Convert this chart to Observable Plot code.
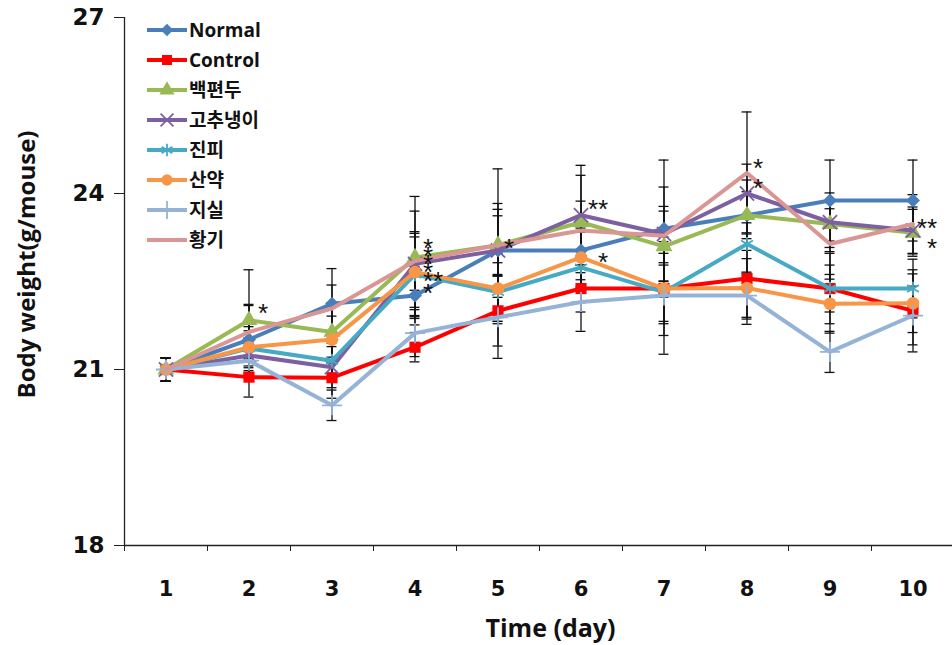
<!DOCTYPE html>
<html>
<head>
<meta charset="utf-8">
<script src="https://cdn.jsdelivr.net/npm/d3@7"></script>
<script src="https://cdn.jsdelivr.net/npm/@observablehq/plot@0.6"></script>
<style>
  html, body { margin: 0; padding: 0; background: #fff; }
  #chart { width: 952px; height: 645px; }
  svg { display: block; }
</style>
</head>
<body>
<div id="chart"></div>
<script>
// ---- data ----
const days = [1, 2, 3, 4, 5, 6, 7, 8, 9, 10];
const seriesNames = ["Normal", "Control", "백편두", "고추냉이", "진피", "산약", "지실", "황기"];
const seriesColors = ["#4A7EBB", "#FF0000", "#98B954", "#7D60A0", "#46AAC5", "#F79646", "#95B3D7", "#D99694"];
const seriesSymbols = ["diamond2", "square", "triangle", "times", "asterisk", "circle", "plus", null];

const normal   = [21.0, 21.51, 22.12, 22.26, 23.03, 23.03, 23.40, 23.63, 23.88, 23.88];
const control  = [21.0, 20.87, 20.86, 21.38, 22.00, 22.38, 22.38, 22.55, 22.38, 22.00];
const baekpyeondu = [21.0, 21.84, 21.64, 22.91, 23.12, 23.51, 23.10, 23.63, 23.48, 23.33];
const gochunaengi = [21.0, 21.24, 21.04, 22.80, 23.03, 23.63, 23.31, 24.00, 23.51, 23.37];
const jinpi    = [21.0, 21.36, 21.15, 22.62, 22.32, 22.74, 22.32, 23.14, 22.38, 22.38];
const sanyak   = [21.0, 21.38, 21.51, 22.66, 22.38, 22.91, 22.38, 22.39, 22.12, 22.13];
const jisil    = [21.0, 21.15, 20.39, 21.62, 21.89, 22.15, 22.26, 22.26, 21.30, 21.92];
const hwanggi  = [21.0, 21.64, 22.04, 22.85, 23.12, 23.37, 23.28, 24.35, 23.14, 23.48];
const seriesValues = [normal, control, baekpyeondu, gochunaengi, jinpi, sanyak, jisil, hwanggi];

const sdNormal   = [0.2, 0.6, 0.6, 0.5, 0.7, 0.5, 1.17, 0.6, 0.69, 0.69];
const sdControl  = [0.2, 0.34, 0.35, 0.25, 0.6, 0.4, 0.6, 0.78, 0.6, 0.7];
const sdBaek     = [0.2, 0.86, 0.5, 1.04, 1.3, 0.8, 0.6, 0.4, 0.4, 0.4];
const sdGochu    = [0.2, 0.3, 0.35, 0.9, 0.8, 0.85, 0.8, 0.5, 0.5, 0.4];
const sdJinpi    = [0.2, 0.3, 0.3, 0.7, 0.5, 0.6, 0.5, 0.5, 0.4, 0.5];
const sdSanyak   = [0.2, 0.35, 0.4, 0.6, 0.6, 0.5, 0.8, 0.5, 0.5, 0.5];
const sdJisil    = [0.2, 0.3, 0.26, 0.4, 0.7, 0.5, 1.0, 0.4, 0.35, 0.5];
const sdHwanggi  = [0.2, 0.45, 0.4, 0.5, 0.5, 0.5, 0.5, 1.04, 0.6, 0.5];
const seriesSD = [sdNormal, sdControl, sdBaek, sdGochu, sdJinpi, sdSanyak, sdJisil, sdHwanggi];

const yTicks = [18, 21, 24, 27];
// significance marks: day, value, label, label offset
const starDays   = [2, 4, 4, 4, 4, 4, 4, 5, 6, 6, 8, 8, 10, 10];
const starValues = [22.06, 23.165, 23.03, 22.89, 22.76, 22.60, 22.40, 23.165, 23.83, 22.94, 24.53, 24.19, 23.51, 23.165];
const starLabels = ["*", "*", "*", "*", "*", "**", "*", "*", "**", "*", "*", "*", "**", "*"];
const starOffsets = [9, 8, 8, 8, 8, 8, 8, 6, 7, 17, 6, 6, 4, 14];

// ---- tables ----
const points = [];
const errs = [];
seriesNames.forEach((name, i) => {
  days.forEach((d, j) => {
    points.push({series: name, day: d, value: seriesValues[i][j]});
    errs.push({series: name, day: d, lo: seriesValues[i][j] - seriesSD[i][j], hi: seriesValues[i][j] + seriesSD[i][j]});
  });
});
const stars = starDays.map((d, i) => ({day: d, value: starValues[i], label: starLabels[i], off: starOffsets[i]}));
const bounds = d3.range(0.5, 11, 1);
const capHalf = 0.06;

const fontLatin = "'Open Sans', 'Noto Sans CJK KR', sans-serif";
const fontNum = "'DejaVu Sans', sans-serif";

const marks = [];
// error bars
marks.push(Plot.ruleX(errs, {x: "day", y1: "lo", y2: "hi", stroke: "#111", strokeWidth: 1.3}));
marks.push(Plot.ruleY(errs, {y: "lo", x1: d => d.day - capHalf, x2: d => d.day + capHalf, stroke: "#111", strokeWidth: 1.3}));
marks.push(Plot.ruleY(errs, {y: "hi", x1: d => d.day - capHalf, x2: d => d.day + capHalf, stroke: "#111", strokeWidth: 1.3}));
// lines and markers
seriesNames.forEach((name, i) => {
  const data = points.filter(p => p.series === name);
  marks.push(Plot.line(data, {x: "day", y: "value", stroke: seriesColors[i], strokeWidth: 4, strokeLinejoin: "round"}));
  const sym = seriesSymbols[i];
  if (sym) {
    const stroked = ["times", "asterisk", "plus"].includes(sym);
    marks.push(Plot.dot(data, stroked
      ? {x: "day", y: "value", symbol: sym, r: 6.5, stroke: seriesColors[i], strokeWidth: 1.8}
      : {x: "day", y: "value", symbol: sym, r: 6.3, fill: seriesColors[i], stroke: "none"}));
  }
});
// stars
stars.forEach(s => {
  marks.push(Plot.text([s], {x: "day", y: "value", text: "label", dx: s.off, dy: 6.5, textAnchor: "start",
    fontSize: 26, fill: "#111", fontFamily: "'Liberation Sans', sans-serif"}));
});
// axes
marks.push(Plot.ruleX([0.5], {stroke: "#222", strokeWidth: 1.3}));
marks.push(Plot.ruleY([18], {stroke: "#222", strokeWidth: 1.3}));
marks.push(Plot.axisY({ticks: yTicks, tickSize: 10, tickPadding: 10, fontSize: 23, fontWeight: "bold", label: null, stroke: "#222", fill: "#111", fontFamily: fontNum}));
marks.push(Plot.axisX({ticks: days, tickSize: 0, tickPadding: 36, fontSize: 21, fontWeight: "bold", label: null, fill: "#111", fontFamily: fontNum}));
marks.push(Plot.axisX({ticks: bounds, tickSize: 6, tickFormat: () => "", label: null, stroke: "#222"}));
marks.push(Plot.text(["Time (day)"], {frameAnchor: "bottom", textAnchor: "middle", lineAnchor: "middle", dx: 12, dy: 83, fontSize: 25, fontWeight: "bold", fill: "#111", fontFamily: fontLatin}));
marks.push(Plot.text(["Body weight(g/mouse)"], {frameAnchor: "left", textAnchor: "middle", lineAnchor: "middle", rotate: -90, dx: -97, dy: -17, fontSize: 24, fontWeight: "bold", fill: "#111", fontFamily: fontLatin}));

const chart = Plot.plot({
  width: 952,
  height: 645,
  marginLeft: 124,
  marginRight: 0,
  marginTop: 17,
  marginBottom: 100,
  style: {background: "#fff", overflow: "visible"},
  x: {domain: [0.5, 10.5], range: [124, 954]},
  y: {domain: [18, 27], range: [545, 17]},
  marks
});
document.getElementById("chart").appendChild(chart);

// legend drawn into the same svg
const svg = d3.select(chart);
const lg = svg.append("g").attr("class", "legend").attr("text-anchor", "start");
const symMap = {diamond2: d3.symbolDiamond2, square: d3.symbolSquare, triangle: d3.symbolTriangle,
  times: d3.symbolTimes, asterisk: d3.symbolAsterisk, circle: d3.symbolCircle, plus: d3.symbolPlus};
seriesNames.forEach((name, i) => {
  const y = 30 + i * 30.0;
  const g = lg.append("g").attr("transform", `translate(0,${y})`);
  g.append("line").attr("x1", 147).attr("x2", 187).attr("y1", 0).attr("y2", 0)
    .attr("stroke", seriesColors[i]).attr("stroke-width", 4);
  const sym = seriesSymbols[i];
  if (sym) {
    const stroked = ["times", "asterisk", "plus"].includes(sym);
    const path = d3.symbol(symMap[sym], stroked ? 110 : 100)();
    const p = g.append("path").attr("d", path).attr("transform", "translate(167,0)");
    if (stroked) p.attr("fill", "none").attr("stroke", seriesColors[i]).attr("stroke-width", 1.8);
    else p.attr("fill", seriesColors[i]);
  }
  g.append("text").attr("x", 189).attr("y", 0).attr("dy", "0.35em").attr("text-anchor", "start")
    .attr("font-family", fontLatin).attr("font-weight", "bold").attr("font-size", 19)
    .attr("fill", "#111").text(name);
});
</script>
</body>
</html>
